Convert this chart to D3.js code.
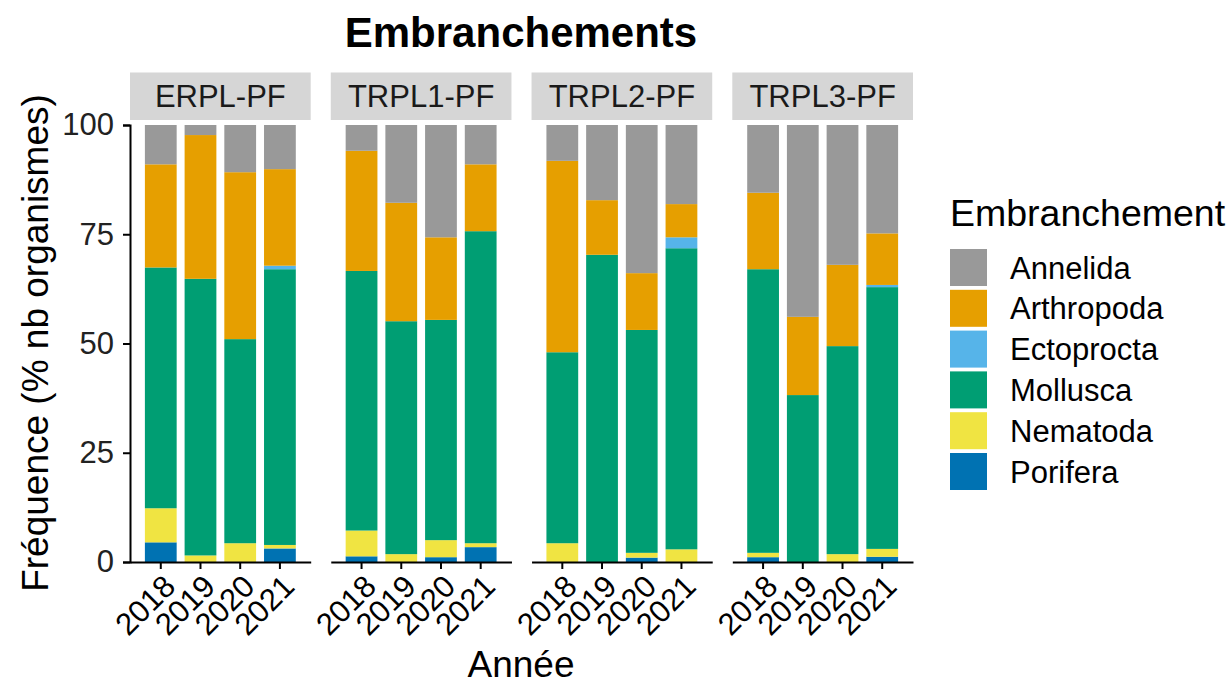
<!DOCTYPE html>
<html>
<head>
<meta charset="utf-8">
<script src="https://cdn.jsdelivr.net/npm/d3@7"></script>
<style>
  html, body { margin: 0; padding: 0; background: #fff; }
  svg text { font-family: "Liberation Sans", Arial, sans-serif; }
</style>
</head>
<body>
<svg id="chart" width="1230" height="689"></svg>
<script>
// Sites (facets), years and phyla
const sites = ["ERPL-PF", "TRPL1-PF", "TRPL2-PF", "TRPL3-PF"];
const years = ["2018", "2019", "2020", "2021"];
// Stacking order, bottom to top
const phyla = ["Porifera", "Nematoda", "Mollusca", "Ectoprocta", "Arthropoda", "Annelida"];
// Legend order
const legendOrder = ["Annelida", "Arthropoda", "Ectoprocta", "Mollusca", "Nematoda", "Porifera"];
const phylumColors = ["#0072B2", "#F0E442", "#009E73", "#56B4E9", "#E69F00", "#999999"];
const yTicks = [0, 25, 50, 75, 100];

// Percentage of organisms per phylum, one array per phylum, ordered site by site then year by year
const porifera   = [4.5, 0, 0, 3.1,   1.3, 0, 1.1, 3.4,   0, 0, 1.0, 0,       1.1, 0, 0, 1.2];
const nematoda   = [7.8, 1.5, 4.3, 0.8,   5.9, 1.8, 3.9, 0.9,   4.3, 0, 1.1, 2.9,   1.0, 0, 1.8, 1.8];
const mollusca   = [55.1, 63.3, 46.7, 63.1,   59.4, 53.3, 50.4, 71.4,   43.7, 70.3, 51.0, 68.9,   64.9, 38.2, 47.6, 59.9];
const ectoprocta = [0, 0, 0, 0.8,   0, 0, 0, 0,   0, 0, 0, 2.5,   0, 0, 0, 0.5];
const arthropoda = [23.6, 32.9, 38.2, 22.1,   27.5, 27.1, 18.9, 15.3,   43.8, 12.5, 13.0, 7.6,   17.5, 17.9, 18.6, 11.8];
const annelida   = [9.0, 2.3, 10.8, 10.1,   5.9, 17.8, 25.7, 9.0,   8.2, 17.2, 33.9, 18.1,   15.5, 43.9, 32.0, 24.8];

const seriesByPhylum = {
  Porifera: porifera, Nematoda: nematoda, Mollusca: mollusca,
  Ectoprocta: ectoprocta, Arthropoda: arthropoda, Annelida: annelida
};

// Build one row per site/year
const rows = [];
sites.forEach((s, i) => years.forEach((y, j) => {
  const k = i * years.length + j;
  const r = { site: s, year: y };
  phyla.forEach(p => { r[p] = seriesByPhylum[p][k]; });
  rows.push(r);
}));

const svg = d3.select("#chart");
const color = d3.scaleOrdinal().domain(phyla).range(phylumColors);

const panelTop = 125, panelBottom = 562;
const stripTop = 72.5, stripBottom = 120;
const facet = d3.scaleBand().domain(sites).range([130, 913]).paddingInner(0.1).paddingOuter(0);
const y = d3.scaleLinear().domain([0, 100]).range([panelBottom, panelTop]);
const x = d3.scaleBand().domain(years).range([0, facet.bandwidth()]).paddingInner(0.2).paddingOuter(0.375);

const stack = d3.stack().keys(phyla);

sites.forEach((site, i) => {
  const g = svg.append("g").attr("transform", `translate(${facet(site)},0)`);
  const data = rows.filter(r => r.site === site);
  const layers = stack(data);

  // strip
  g.append("rect").attr("x", 0).attr("y", stripTop)
    .attr("width", facet.bandwidth()).attr("height", stripBottom - stripTop)
    .attr("fill", "#d6d6d6");
  g.append("text").attr("x", facet.bandwidth() / 2).attr("y", (stripTop + stripBottom) / 2)
    .attr("dy", "0.36em").attr("text-anchor", "middle")
    .attr("font-size", 31).attr("fill", "#1a1a1a").text(site);

  // stacked bars
  layers.forEach(layer => {
    g.append("g").attr("fill", color(layer.key))
      .selectAll("rect").data(layer.filter(d => d[1] - d[0] > 0)).join("rect")
      .attr("x", d => x(d.data.year))
      .attr("width", x.bandwidth())
      .attr("y", d => y(d[1]))
      .attr("height", d => y(d[0]) - y(d[1]));
  });

  // x axis
  const xa = g.append("g").attr("transform", `translate(0,${panelBottom})`)
    .call(d3.axisBottom(x).tickSize(7).tickSizeOuter(0).tickPadding(4));
  xa.select(".domain").attr("stroke", "#000").attr("stroke-width", 2);
  xa.selectAll(".tick line").attr("stroke", "#000").attr("stroke-width", 2);
  xa.selectAll(".tick text")
    .attr("font-size", 31).attr("fill", "#000")
    .attr("text-anchor", "end")
    .attr("transform", "translate(1,11) rotate(-45)")
    .attr("dy", "0.7em").attr("y", 0).attr("x", 0);

  // y axis on first panel only
  if (i === 0) {
    const ya = g.append("g")
      .call(d3.axisLeft(y).tickValues(yTicks).tickSize(7).tickPadding(9));
    ya.select(".domain").attr("stroke", "#000").attr("stroke-width", 2);
    ya.selectAll(".tick line").attr("stroke", "#000").attr("stroke-width", 2);
    ya.selectAll(".tick text").attr("font-size", 31).attr("fill", "#222");
  }
});

// titles
svg.append("text").attr("x", 521).attr("y", 47).attr("text-anchor", "middle")
  .attr("font-size", 42).attr("font-weight", "bold").attr("fill", "#000").text("Embranchements");
svg.append("text").attr("x", 521).attr("y", 677).attr("text-anchor", "middle")
  .attr("font-size", 37).attr("fill", "#000").text("Année");
svg.append("text").attr("transform", "translate(48,343) rotate(-90)").attr("text-anchor", "middle")
  .attr("font-size", 37).attr("fill", "#000").text("Fréquence (% nb organismes)");

// legend
const lg = svg.append("g").attr("transform", "translate(950,0)");
lg.append("text").attr("x", 0).attr("y", 226).attr("font-size", 37.5).attr("fill", "#000").text("Embranchement");
const keySize = 37, keyStep = 40.8, keyTop = 249;
legendOrder.forEach((p, k) => {
  lg.append("rect").attr("x", 0).attr("y", keyTop + k * keyStep)
    .attr("width", keySize).attr("height", keySize).attr("fill", color(p));
  lg.append("text").attr("x", 60).attr("y", keyTop + k * keyStep + keySize / 2)
    .attr("dy", "0.36em").attr("font-size", 31).attr("fill", "#000").text(p);
});
</script>
</body>
</html>
